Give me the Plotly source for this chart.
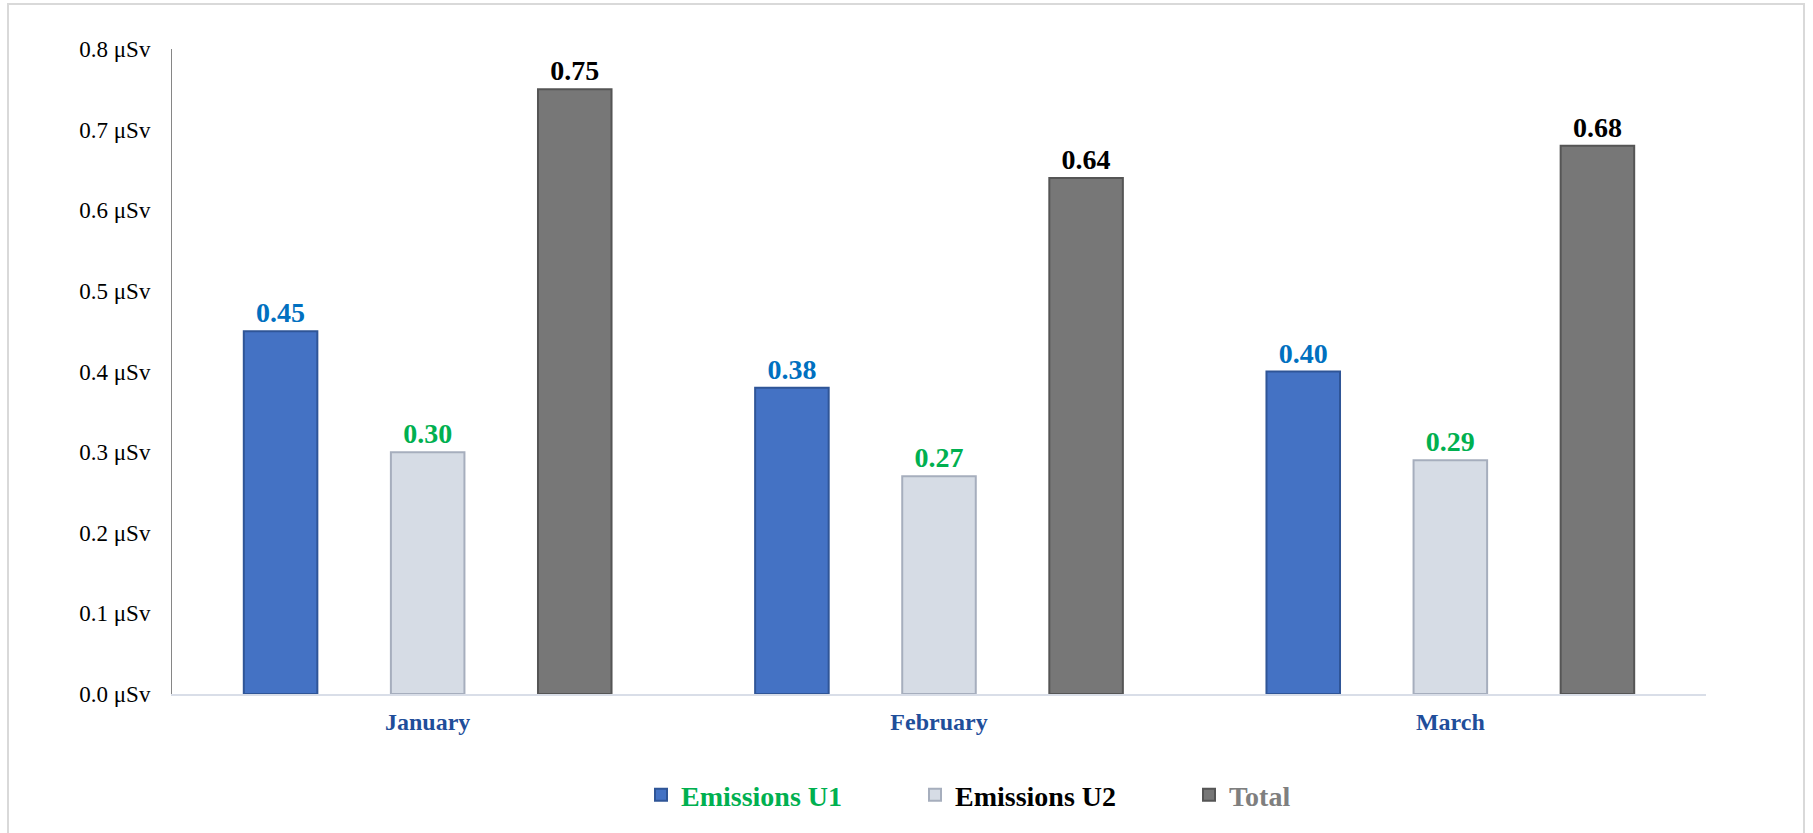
import plotly.graph_objects as go

# Monthly dose from emissions (μSv)
months = ["January", "February", "March"]
emissions_u1 = [0.45, 0.38, 0.40]
emissions_u2 = [0.30, 0.27, 0.29]
total = [0.75, 0.64, 0.68]

y_ticks = [0.0, 0.1, 0.2, 0.3, 0.4, 0.5, 0.6, 0.7, 0.8]
y_tick_text = [f"{v:.1f} μSv" for v in y_ticks]

SERIF = "Liberation Serif, Times New Roman, serif"

series = [
    # name, values, fill, edge, label colour, legend text colour
    ("Emissions U1", emissions_u1, "#4472C4", "#2F5597", "#0070C0", "#00B050"),
    ("Emissions U2", emissions_u2, "#D6DCE5", "#A6AEBD", "#00B050", "#000000"),
    ("Total", total, "#777777", "#555555", "#000000", "#7F7F7F"),
]

fig = go.Figure()
for name, vals, fill, edge, label_col, legend_col in series:
    fig.add_trace(go.Bar(
        x=months,
        y=vals,
        name=f"<span style='color:{legend_col}'>{name}</span>",
        marker=dict(color=fill, line=dict(color=edge, width=2)),
        texttemplate="%{y:.2f}",
        textposition="outside",
        constraintext="none",
        cliponaxis=False,
        textfont=dict(family=SERIF, size=28, color=label_col, weight="bold"),
        hoverinfo="x+y",
    ))

# Pixel geometry of the plot area
W, H = 1813, 833
L, R, T, B = 172, 107, 49, 139
pw, ph = W - L - R, H - T - B

def px_x(p):
    return (p - L) / pw

def px_y(p):
    return (H - B - p) / ph

fig.update_layout(
    width=W,
    height=H,
    margin=dict(l=L, r=R, t=T, b=B, pad=0),
    paper_bgcolor="white",
    plot_bgcolor="white",
    barmode="group",
    bargap=0.137,
    bargroupgap=0.50,
    font=dict(family=SERIF, color="#000000"),
    showlegend=True,
    legend=dict(
        orientation="h",
        x=px_x(641),
        xanchor="left",
        y=px_y(795),
        yanchor="middle",
        font=dict(family=SERIF, size=28, weight="bold"),
        bgcolor="rgba(0,0,0,0)",
        entrywidth=229,
        entrywidthmode="pixels",
        itemwidth=30,
        traceorder="normal",
    ),
    xaxis=dict(
        type="category",
        showline=True,
        linecolor="#D9DEE8",
        linewidth=2,
        showgrid=False,
        ticks="",
        tickfont=dict(family=SERIF, size=24, color="#1F4E9A", weight="bold"),
        ticklabelstandoff=5,
        zeroline=False,
    ),
    yaxis=dict(
        range=[0, 0.8],
        tickmode="array",
        tickvals=y_ticks,
        ticktext=y_tick_text,
        showline=True,
        linecolor="#868686",
        linewidth=1,
        showgrid=False,
        zeroline=False,
        ticks="",
        tickfont=dict(family=SERIF, size=23, color="#000000"),
        ticklabelstandoff=16,
    ),
    shapes=[
        # light frame around the chart
        dict(
            type="rect",
            xref="paper", yref="paper",
            x0=px_x(8), x1=px_x(1804),
            y0=px_y(845), y1=px_y(4),
            line=dict(color="#D9D9D9", width=2),
            fillcolor="rgba(0,0,0,0)",
            layer="below",
        ),
    ],
)

fig.write_html("out.html")
